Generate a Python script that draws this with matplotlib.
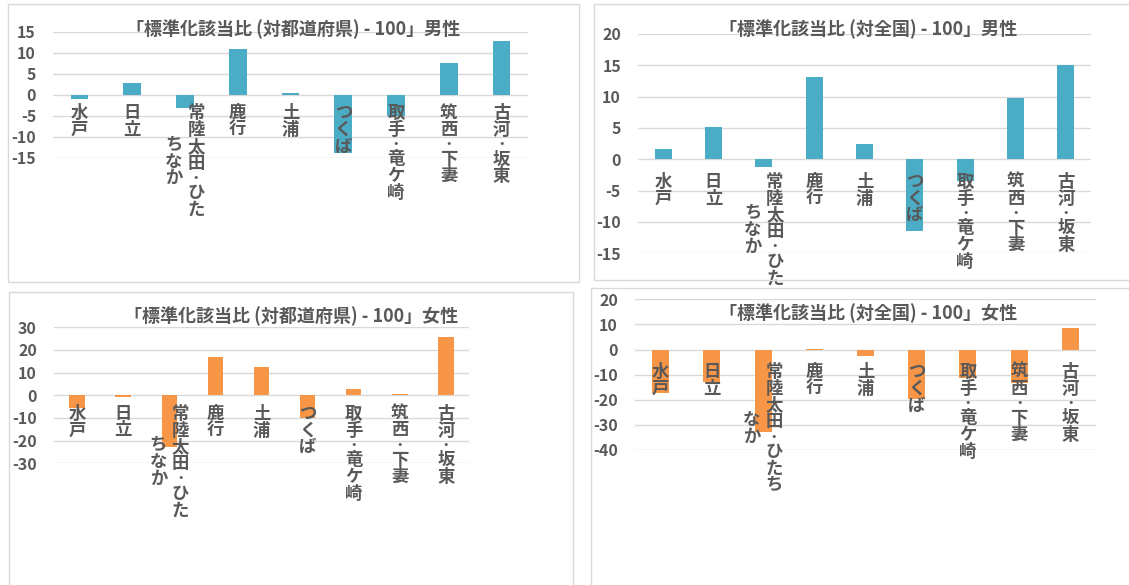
import matplotlib
matplotlib.use('Agg')
import matplotlib.pyplot as plt
from matplotlib.patches import Rectangle
import numpy as np

plt.rcParams['font.family'] = ['Noto Sans CJK JP', 'DejaVu Sans']

#===============================================================================#
# data                                                                          #
#===============================================================================#

areas = ['水戸', '日立', '常陸太田・ひたちなか', '鹿行', '土浦', 'つくば',
         '取手・竜ケ崎', '筑西・下妻', '古河・坂東']

# standardized ratio - 100
male_pref   = [-1.0, 2.8, -3.2, 11.0, 0.5, -13.8, -5.1, 7.5, 12.8]
male_nat    = [1.7, 5.1, -1.2, 13.1, 2.5, -11.4, -3.5, 9.8, 15.0]
female_pref = [-5.4, -0.6, -22.7, 16.7, 12.7, -10.1, 2.6, 0.6, 25.8]
female_nat  = [-17.3, -13.1, -32.9, 0.4, -2.7, -19.7, -11.5, -13.3, 8.4]

titles = ['「標準化該当比 (対都道府県) - 100」男性',
          '「標準化該当比 (対全国) - 100」男性',
          '「標準化該当比 (対都道府県) - 100」女性',
          '「標準化該当比 (対全国) - 100」女性']

yticks = [np.arange(-15, 16, 5), np.arange(-15, 21, 5),
          np.arange(-30, 31, 10), np.arange(-40, 21, 10)]

#===============================================================================#
# layout (pixels)                                                               #
#===============================================================================#

W, H = 1129, 585
TXT = '#595959'
GRID = '#d9d9d9'
BLUE = '#4bacc6'
ORANGE = '#f79646'

panels = [
    # box, plot area, title pos, label pad, wrap width
    dict(box=(8, 4, 579, 282), plot=(53, 32, 528, 157.7), title=(293.5, 29.3), pad=10, wrap=7),
    dict(box=(594, 4, 1145, 279.5), plot=(638, 34, 1091, 253.3), title=(868, 29.3), pad=14, wrap=7),
    dict(box=(9, 291.5, 573, 600), plot=(54, 327.3, 469, 463.3), title=(291, 316.7), pad=10, wrap=7),
    dict(box=(590.5, 288, 1145, 600), plot=(635, 299.3, 1096, 450), title=(868, 313.3), pad=14, wrap=8),
]
series = [male_pref, male_nat, female_pref, female_nat]
colors = [BLUE, BLUE, ORANGE, ORANGE]

PITCH = 16.8    # vertical character pitch (px)
COLGAP = 22     # spacing between wrapped columns (px)
PT = 72 / 100   # px -> points
FS = 12.5       # label font size
DOT_FS = 9      # middle dot is set smaller and packed tighter

def frac_rect( x0, y0, x1, y1 ):
    return [x0/W, 1 - y1/H, (x1-x0)/W, (y1-y0)/H]

def charStep( ch ):
    return 0.75 if ch == '・' else 1.0

def verticalLabel( ax, i, name, wrap, pad ):
    # vertical writing: columns run right to left, centred on the block
    cols = [name[k:k+wrap] for k in range(0, len(name), wrap)]
    lens = [sum(charStep(c) for c in col) for col in cols]
    L = max(lens)
    for j, col in enumerate(cols):
        dx = ((len(cols)-1)/2 - j) * COLGAP
        pos = pad + (L - lens[j]) / 2 * PITCH
        for ch in col:
            step = charStep(ch) * PITCH
            dy = -(pos + step/2)
            pos += step
            ax.annotate( ch, xy=(i, 0), xycoords='data',
                         xytext=(dx*PT, dy*PT), textcoords='offset points',
                         ha='center', va='center',
                         fontsize=DOT_FS if ch == '・' else FS,
                         fontweight='bold', color=TXT, annotation_clip=False )

#===============================================================================#
# plot                                                                          #
#===============================================================================#

fig = plt.figure( figsize=(W/100, H/100), dpi=100 )

for p, vals, col, title, ticks in zip( panels, series, colors, titles, yticks ):

    # chart frame
    bx0, by0, bx1, by1 = p['box']
    fig.patches.append( Rectangle( (bx0/W, 1-by1/H), (bx1-bx0)/W, (by1-by0)/H,
                                   transform=fig.transFigure, fill=False,
                                   edgecolor=GRID, lw=1.0 ) )

    ax = fig.add_axes( frac_rect(*p['plot']) )
    x = np.arange(len(areas))
    ax.bar( x, vals, width=1/3, color=col, zorder=2 )
    ax.set_xlim( -0.5, len(areas)-0.5 )
    ax.set_ylim( ticks[0], ticks[-1] )
    ax.set_yticks( ticks )
    ax.set_yticklabels( [str(t) for t in ticks] )
    ax.set_xticks( [] )
    ax.tick_params( axis='y', length=0, pad=17*PT, labelsize=11.5, labelcolor=TXT )
    for lab in ax.get_yticklabels():
        lab.set_fontweight('bold')
    ax.yaxis.grid( True, color=GRID, lw=1.0, zorder=0 )
    ax.set_axisbelow( True )
    for s in ax.spines.values():
        s.set_visible( False )
    ax.patch.set_alpha( 0 )

    for i, name in enumerate( areas ):
        verticalLabel( ax, i, name, p['wrap'], p['pad'] )

    tx, ty = p['title']
    fig.text( tx/W, 1-ty/H, title, ha='center', va='center', fontsize=13,
              fontweight='bold', color=TXT )

fig.savefig( 'out.png', dpi=100 )
plt.close( fig )
